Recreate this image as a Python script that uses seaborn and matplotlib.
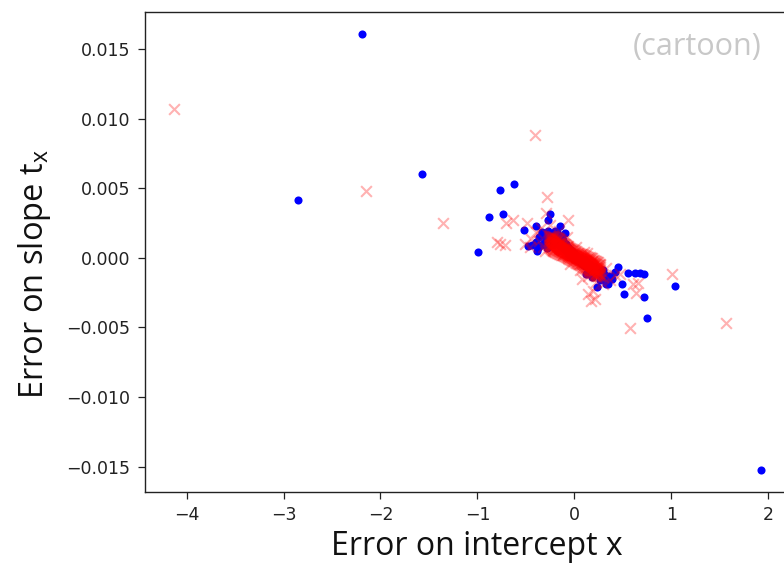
import numpy as np
import matplotlib
matplotlib.use("Agg")
import matplotlib.pyplot as plt
import seaborn as sns

# --- scattered estimates, method A (blue dots) ---
blue_x = [-2.19, -2.85, -1.57, -0.99, -0.765, -0.627, -0.885, -0.737, -0.253, -0.27,
          -0.521, -0.40, -0.476, -0.373, -0.39, -0.15, -0.20, -0.338, -0.304,
          0.455, 0.555, 0.624, 0.675, 0.718, 1.035, 0.229, 0.349, 0.487, 0.513,
          0.716, 0.755, 1.923]
blue_y = [0.01612, 0.00418, 0.00603, 0.00043, 0.00489, 0.00530, 0.00294, 0.00313,
          0.00313, 0.00274, 0.00203, 0.00231, 0.00086, 0.00074, 0.00050, 0.00229,
          0.00193, 0.00181, 0.00158, -0.00066, -0.00105, -0.00105, -0.00110,
          -0.00115, -0.00199, -0.00208, -0.00190, -0.00190, -0.00256, -0.00284,
          -0.00435, -0.01526]

# method A, points inside the central cloud
blue_core_x = [-0.36, -0.33, -0.31, -0.29, -0.27, -0.25, -0.23, -0.22, -0.20, -0.18,
               -0.17, -0.15, -0.14, -0.12, -0.11, -0.09, -0.08, -0.06, -0.05, -0.03,
               -0.02, 0.00, 0.01, 0.03, 0.05, 0.06, 0.08, 0.10, 0.11, 0.13, 0.15,
               0.16, 0.18, 0.20, 0.21, 0.23, 0.25, 0.27, 0.29, 0.31, 0.34, 0.36,
               0.39, 0.42, 0.30, 0.26, 0.18, -0.40, -0.44, -0.34, -0.28, 0.12,
               0.33, -0.10]
blue_core_y = [0.00150, 0.00185, 0.00110, 0.00165, 0.00195, 0.00140, 0.00175,
               0.00100, 0.00150, 0.00190, 0.00120, 0.00090, 0.00160, 0.00130,
               0.00070, 0.00100, 0.00050, 0.00080, 0.00030, 0.00060, 0.00015,
               0.00035, -0.00005, 0.00010, -0.00025, 0.00000, -0.00040, -0.00015,
               -0.00060, -0.00035, -0.00075, -0.00050, -0.00090, -0.00065, -0.00110,
               -0.00085, -0.00125, -0.00100, -0.00140, -0.00115, -0.00160, -0.00130,
               -0.00150, -0.00100, -0.00085, -0.00160, -0.00135, 0.00115, 0.00090,
               0.00090, 0.00070, -0.00115, -0.00185, 0.00180]

# --- method B (red crosses): outliers and fringe ---
red_x = [-4.126, -2.149, -1.352, -0.404, -0.28, -0.706, -0.631, -0.493, -0.297,
         -0.064, -0.80, -0.77, -0.71, -0.51, -0.46, 1.005, 1.562, 0.576, 0.606,
         0.658, 0.641, 0.469, 0.194, 0.211, 0.177, 0.142, 0.126,
         -0.40, -0.36, -0.34, -0.32, -0.25, -0.22, -0.16, -0.12, -0.08, -0.04,
         0.02, 0.06, 0.10, 0.14, 0.18, 0.22, 0.26, 0.30, 0.33, 0.37, 0.42, 0.30,
         -0.30, 0.08, -0.45]
red_y = [0.01069, 0.00480, 0.00248, 0.00886, 0.00440, 0.00248, 0.00270, 0.00253,
         0.00325, 0.00270, 0.00115, 0.00098, 0.00091, 0.00098, 0.00080, -0.00115,
         -0.00470, -0.00506, -0.00188, -0.00177, -0.00249, -0.00117, -0.00236,
         -0.00296, -0.00308, -0.00260, 0.00038,
         0.00190, 0.00120, 0.00215, 0.00080, 0.00235, 0.00060, 0.00195, 0.00020,
         0.00150, -0.00040, 0.00080, -0.00090, 0.00040, -0.00130, -0.00020,
         -0.00170, -0.00040, -0.00190, -0.00075, -0.00160, -0.00120, -0.00140,
         0.00050, -0.00150, 0.00140]

# method B, dense central cloud: slope errors (units of 1e-4) for each intercept error
red_core_x = [-0.26, -0.24, -0.22, -0.20, -0.18, -0.16, -0.14, -0.12, -0.10, -0.08,
              -0.06, -0.04, -0.02, 0.00, 0.02, 0.04, 0.06, 0.08, 0.10, 0.12,
              0.14, 0.16, 0.18, 0.20, 0.22, 0.24, 0.26]
red_core_y = [
    [7.9, 9.5, 11.1, 12.7, 14.3, 15.9],
    [6.1, 8.1, 10.1, 12.1, 14.1, 16.1],
    [4.9, 7.1, 9.2, 11.4, 13.5, 15.7],
    [4.1, 6.3, 8.4, 10.6, 12.7, 14.9],
    [3.3, 5.5, 7.6, 9.8, 11.9, 14.1],
    [2.5, 4.7, 6.8, 9.0, 11.1, 13.3],
    [2.3, 4.2, 6.2, 8.0, 9.9, 11.9],
    [1.8, 3.6, 5.4, 7.2, 9.0, 10.8],
    [1.2, 2.9, 4.6, 6.4, 8.1, 9.8],
    [0.6, 2.2, 3.9, 5.5, 7.2, 8.8],
    [-0.1, 1.5, 3.1, 4.7, 6.3, 7.9],
    [-0.9, 0.7, 2.3, 3.9, 5.5, 7.1],
    [-1.7, -0.1, 1.5, 3.1, 4.7, 6.3],
    [-2.5, -0.9, 0.7, 2.3, 3.9, 5.5],
    [-3.3, -1.7, -0.1, 1.5, 3.1, 4.7],
    [-4.1, -2.5, -0.9, 0.7, 2.3, 3.9],
    [-5.0, -3.4, -1.7, -0.1, 1.6, 3.2],
    [-6.0, -4.3, -2.6, -0.8, 0.9, 2.6],
    [-7.0, -5.2, -3.4, -1.6, 0.2, 2.0],
    [-8.1, -6.2, -4.3, -2.3, -0.4, 1.5],
    [-9.2, -7.2, -5.1, -3.1, -1.0, 1.0],
    [-10.3, -8.1, -6.0, -3.8, -1.7, 0.5],
    [-11.1, -8.9, -6.8, -4.6, -2.5, -0.3],
    [-11.9, -9.7, -7.6, -5.4, -3.3, -1.1],
    [-12.7, -10.5, -8.4, -6.2, -4.1, -1.9],
    [-13.1, -11.1, -9.1, -7.1, -5.1, -3.1],
    [-12.9, -11.3, -9.7, -8.1, -6.5, -4.9],
]
red_core2_x = [-0.25, -0.23, -0.21, -0.19, -0.17, -0.15, -0.13, -0.11, -0.09, -0.07,
               -0.05, -0.03, -0.01, 0.01, 0.03, 0.05, 0.07, 0.09, 0.11, 0.13,
               0.15, 0.17, 0.19, 0.21, 0.23, 0.25]
red_core2_y = [
    [7.5, 9.5, 11.5, 13.5, 15.5],
    [5.9, 8.3, 10.7, 13.1, 15.5],
    [4.9, 7.4, 9.9, 12.4, 14.9],
    [4.1, 6.6, 9.1, 11.6, 14.1],
    [3.3, 5.8, 8.3, 10.8, 13.3],
    [2.7, 5.1, 7.5, 9.9, 12.3],
    [2.2, 4.4, 6.7, 9.0, 11.2],
    [1.6, 3.7, 5.9, 8.1, 10.2],
    [1.0, 3.0, 5.1, 7.2, 9.2],
    [0.3, 2.3, 4.3, 6.3, 8.3],
    [-0.5, 1.5, 3.5, 5.5, 7.5],
    [-1.3, 0.7, 2.7, 4.7, 6.7],
    [-2.1, -0.1, 1.9, 3.9, 5.9],
    [-2.9, -0.9, 1.1, 3.1, 5.1],
    [-3.7, -1.7, 0.3, 2.3, 4.3],
    [-4.5, -2.5, -0.5, 1.5, 3.5],
    [-5.4, -3.3, -1.3, 0.8, 2.8],
    [-6.3, -4.2, -2.1, 0.0, 2.1],
    [-7.3, -5.1, -2.9, -0.7, 1.5],
    [-8.3, -6.0, -3.7, -1.4, 0.9],
    [-9.3, -6.9, -4.5, -2.1, 0.3],
    [-10.3, -7.8, -5.3, -2.8, -0.3],
    [-11.1, -8.6, -6.1, -3.6, -1.1],
    [-11.9, -9.4, -6.9, -4.4, -1.9],
    [-12.5, -10.1, -7.7, -5.3, -2.9],
    [-12.5, -10.5, -8.5, -6.5, -4.5],
]

xlabel_text = "Error on intercept x"
ylabel_text = "Error on slope t$_{\\mathrm{x}}$"
note_text = "(cartoon)"

# ---------------------------------------------------------------------------
plt.rcParams["mathtext.fontset"] = "custom"
plt.rcParams["mathtext.rm"] = "Open Sans"
plt.rcParams["mathtext.it"] = "Open Sans:italic"


def expand(xs, rows):
    """Pair every intercept error with each slope error in its row."""
    rows = np.asarray(rows)
    return np.repeat(xs, rows.shape[1]), rows.ravel() * 1e-4


fig = plt.figure(figsize=(7.84, 5.64), dpi=100)
ax = fig.add_axes([0.185, 0.1277, 0.8227, 0.851])

c1x, c1y = expand(red_core_x, red_core_y)
c2x, c2y = expand(red_core2_x, red_core2_y)
bx = np.concatenate([blue_x, blue_core_x])
by = np.concatenate([blue_y, blue_core_y])
rx = np.concatenate([red_x, c1x, c2x])
ry = np.concatenate([red_y, c1y, c2y])

sns.scatterplot(x=bx, y=by, color="#0000ff", s=34, linewidth=0, ax=ax, zorder=2)
sns.scatterplot(x=rx, y=ry, color="red", marker="x", s=60, linewidth=1.5,
                alpha=0.3, ax=ax, zorder=3)

ax.set_yticks([-0.015, -0.010, -0.005, 0.0, 0.005, 0.010, 0.015])
ax.set_xticks([-4, -3, -2, -1, 0, 1, 2])
ax.tick_params(labelsize=12.5, length=5, width=0.9, colors="#222222",
               labelcolor="#222222")
ax.tick_params(axis="y", pad=5.5)
ax.tick_params(axis="x", pad=5)
for sp in ax.spines.values():
    sp.set_linewidth(1.0)
    sp.set_color("#222222")

ax.set_xlabel(xlabel_text, fontsize=23, family="Open Sans", color="#111111")
ax.set_ylabel(ylabel_text, fontsize=23.5, family="Open Sans", color="#111111")
ax.xaxis.set_label_coords(0.515, -0.08)
ax.yaxis.set_label_coords(-0.143, 0.455)

ax.text(0.856, 0.927, note_text, transform=ax.transAxes, fontsize=22,
        family="Open Sans", color="#c8c8c8", ha="center", va="center")

fig.savefig("out.png", dpi=100)
